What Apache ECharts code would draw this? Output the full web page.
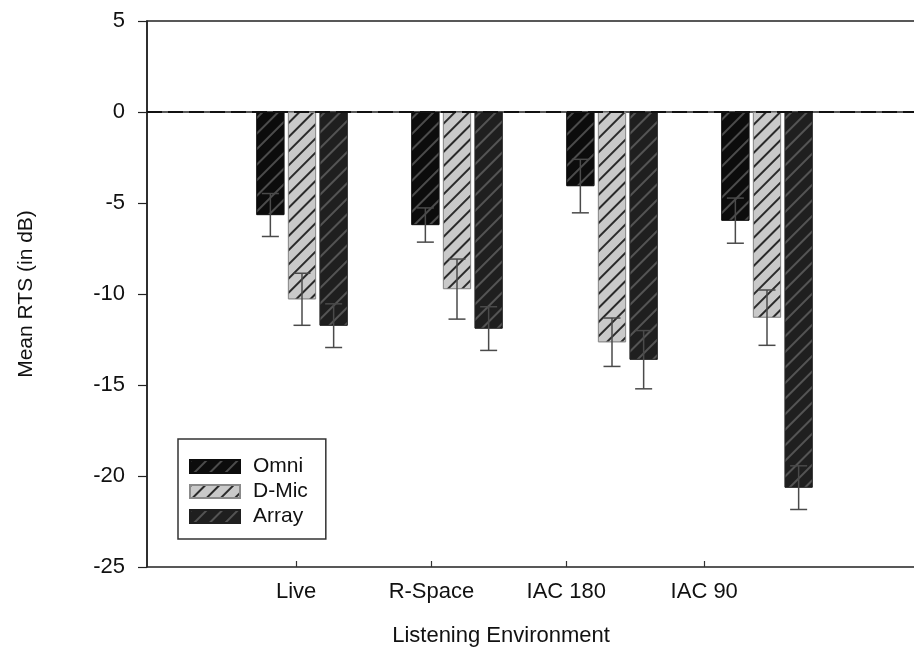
<!DOCTYPE html>
<html>
<head>
<meta charset="utf-8">
<script src="https://cdn.jsdelivr.net/npm/echarts@6/dist/echarts.min.js"></script>
<style>
html,body{margin:0;padding:0;background:#fff;}
#c{width:914px;height:654px;}
</style>
</head>
<body>
<div id="c"></div>
<script>
// ---- data ----
const categories = ['Live', 'R-Space', 'IAC 180', 'IAC 90'];
const seriesNames = ['Omni', 'D-Mic', 'Array'];
const omni  = [-5.66, -6.21, -4.07, -5.97];
const dmic  = [-10.29, -9.73, -12.65, -11.30];
const array = [-11.74, -11.90, -13.61, -20.64];
const omniErr  = [1.18, 0.94, 1.47, 1.24];
const dmicErr  = [1.43, 1.65, 1.33, 1.52];
const arrayErr = [1.20, 1.20, 1.60, 1.20];
const yTicks = [5, 0, -5, -10, -15, -20, -25];

// ---- layout (not data) ----
const FONT = 'Liberation Sans, Arial, sans-serif';
const BAR_W = 28;
const BAR_GAP = 0.13;
const labelPos = [0.962, 1.835, 2.705, 3.595]; // where the original placed the category labels
const axisCats = [''].concat(categories, ['']);

const values = [omni, dmic, array];
const errs = [omniErr, dmicErr, arrayErr];

const decals = [
  {symbol:'rect', symbolSize:1, dashArrayX:[1,0], dashArrayY:[1.2, 8.3], rotation:-Math.PI/4, color:'rgba(130,130,130,0.55)'},
  {symbol:'rect', symbolSize:1, dashArrayX:[1,0], dashArrayY:[1.6, 7.9], rotation:-Math.PI/4, color:'#2a2a2a'},
  {symbol:'rect', symbolSize:1, dashArrayX:[1,0], dashArrayY:[1.2, 8.3], rotation:-Math.PI/4, color:'rgba(120,120,120,0.6)'}
];
const fills = ['#0c0c0c', '#c9c9c9', '#1f1f1f'];
const borders = ['#0c0c0c', '#8a8a8a', '#1f1f1f'];

const barSeries = seriesNames.map((name, s) => ({
  name: name,
  type: 'bar',
  xAxisIndex: 0,
  barWidth: BAR_W,
  barGap: (BAR_GAP * 100) + '%',
  data: values[s].map((v, i) => [i + 1, v]),
  itemStyle: { color: fills[s], borderColor: borders[s], borderWidth: 0.8, decal: decals[s] },
  emphasis: { disabled: true },
  markLine: s === 0 ? {
    silent: true, symbol: 'none', label: { show: false },
    lineStyle: { type: [15, 6], color: '#111', width: 2 },
    data: [{ yAxis: 0 }]
  } : undefined,
  z: 2
}));

const errData = [];
for (let s = 0; s < 3; s++) {
  for (let i = 0; i < categories.length; i++) {
    errData.push([i + 1, values[s][i] - errs[s][i], values[s][i] + errs[s][i], s]);
  }
}

const errSeries = {
  type: 'custom',
  xAxisIndex: 0,
  silent: true,
  z: 5,
  data: errData,
  encode: { x: 0, y: [1, 2] },
  renderItem: function (params, api) {
    const x = api.value(0);
    const lo = api.coord([x, api.value(1)]);
    const hi = api.coord([x, api.value(2)]);
    const s = api.value(3);
    const off = (s - 1) * BAR_W * (1 + BAR_GAP);
    const cx = lo[0] + off;
    const hw = 8.5;
    const st = { stroke: '#4a4a4a', lineWidth: 1.5, fill: null };
    return {
      type: 'group',
      children: [
        { type: 'line', shape: { x1: cx, y1: lo[1], x2: cx, y2: hi[1] }, style: st },
        { type: 'line', shape: { x1: cx - hw, y1: lo[1], x2: cx + hw, y2: lo[1] }, style: st },
        { type: 'line', shape: { x1: cx - hw, y1: hi[1], x2: cx + hw, y2: hi[1] }, style: st }
      ]
    };
  }
};

const chart = echarts.init(document.getElementById('c'), null, { renderer: 'canvas' });
chart.setOption({
  animation: false,
  backgroundColor: '#fff',
  grid: { left: 147, width: 775, top: 21, height: 546, outerBoundsMode: 'none', containLabel: false, show: true, borderColor: '#222', borderWidth: 1.5, backgroundColor: 'transparent' },
  legend: {
    data: seriesNames,
    orient: 'vertical',
    left: 178, top: 439,
    itemWidth: 50, itemHeight: 13, itemGap: 4,
    icon: 'rect',
    padding: [17, 18, 12, 11],
    borderColor: '#333', borderWidth: 1.5,
    selectedMode: false,
    textStyle: { fontFamily: FONT, fontSize: 21, color: '#111', lineHeight: 21, padding: [0, 0, 0, 8] }
  },
  xAxis: [
    {
      type: 'category', data: axisCats, boundaryGap: false, position: 'bottom',
      axisLine: { show: true, lineStyle: { color: '#222', width: 1.5 } },
      axisTick: { show: false }, axisLabel: { show: false }, splitLine: { show: false }
    },
    {
      type: 'value', min: 0, max: 5, position: 'bottom',
      axisLine: { show: false },
      splitLine: { show: false },
      axisTick: { show: true, inside: true, length: 6, customValues: labelPos, lineStyle: { color: '#333', width: 1.2 } },
      axisLabel: {
        customValues: labelPos, margin: 14,
        fontFamily: FONT, fontSize: 22, color: '#111',
        formatter: function (v) {
          for (let i = 0; i < labelPos.length; i++) if (Math.abs(labelPos[i] - v) < 1e-6) return categories[i];
          return '';
        }
      }
    }
  ],
  yAxis: {
    type: 'value', min: -25, max: 5, interval: 5,
    name: 'Mean RTS (in dB)', nameLocation: 'middle', nameGap: 110,
    nameTextStyle: { fontFamily: FONT, fontSize: 21, color: '#111' },
    axisLine: { show: true, lineStyle: { color: '#222', width: 1.5 } },
    axisTick: { show: true, inside: false, length: 9, lineStyle: { color: '#222', width: 1.2 } },
    axisLabel: { margin: 22, fontFamily: FONT, fontSize: 22, color: '#111', formatter: v => (yTicks.indexOf(v) >= 0 ? String(v) : '') },
    splitLine: { show: false }
  },
  graphic: [{
    type: 'text', x: 501, y: 636,
    style: { text: 'Listening Environment', font: '22px ' + FONT, fill: '#111', align: 'center', verticalAlign: 'middle' }
  }],
  series: barSeries.concat([errSeries])
});
</script>
</body>
</html>
